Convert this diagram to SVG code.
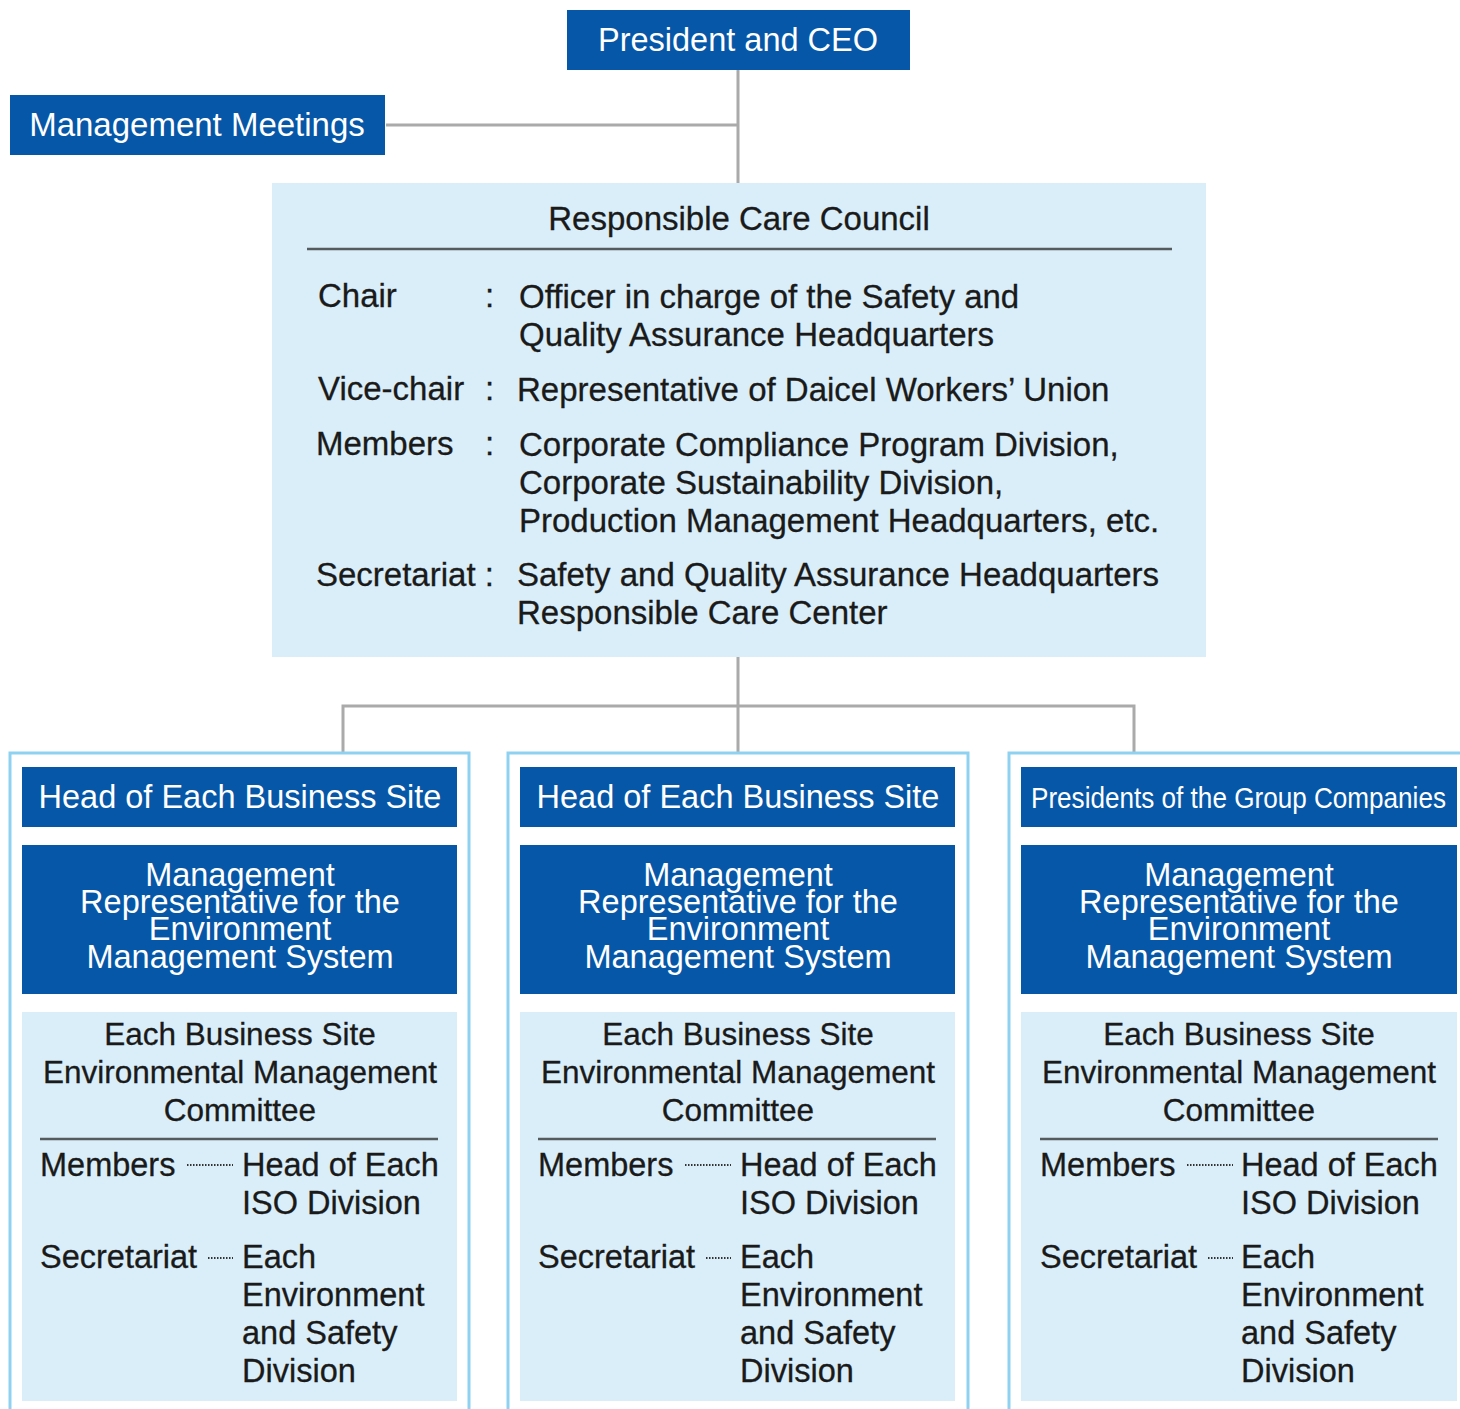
<svg xmlns="http://www.w3.org/2000/svg" width="1460" height="1409" viewBox="0 0 1460 1409">
<style>
.blue{fill:#0657a7}
.light{fill:#d9eef9}
.outer{fill:#ffffff;stroke:#8ed1f1;stroke-width:3}
.conn{fill:none;stroke:#aaaaaa;stroke-width:3}
.rule{stroke:#555a5e;stroke-width:2.5}
.dots{stroke:#333;stroke-width:1.8;stroke-dasharray:1.5 1.5}
text{font-family:"Liberation Sans",Arial,Helvetica,sans-serif}
.w{fill:#ffffff;font-size:32.5px}
.wc{fill:#ffffff;font-size:32.5px;text-anchor:middle}
.k{fill:#1a1a1a;font-size:32.5px;stroke:#1a1a1a;stroke-width:0.3}
.kc{fill:#1a1a1a;font-size:31.5px;text-anchor:middle;stroke:#1a1a1a;stroke-width:0.3}
.c{fill:#1a1a1a;font-size:33px;stroke:#1a1a1a;stroke-width:0.3}
</style>
<rect width="1460" height="1409" fill="#ffffff"/>
<g id="connectors">
<path class="conn" d="M738 70 V183 M386 125 H738"/>
<path class="conn" d="M738 657 V752 M343 752 V706 H1134 V752"/>
</g>
<g id="president">
<rect class="blue" x="567" y="10" width="343" height="60"/>
<text class="wc" x="738" y="51" font-size="32">President and CEO</text>
</g>
<g id="meetings">
<rect class="blue" x="10" y="95" width="375" height="60"/>
<text class="wc" x="197" y="136" style="font-size:33px">Management Meetings</text>
</g>
<g id="council">
<rect class="light" x="272" y="183" width="934" height="474"/>
<text class="c" x="739" y="230" text-anchor="middle">Responsible Care Council</text>
<line class="rule" x1="307" y1="249" x2="1172" y2="249"/>
<text class="c" x="318" y="307">Chair</text>
<text class="c" x="485" y="307">:</text>
<text class="c" x="519" y="308">Officer in charge of the Safety and</text>
<text class="c" x="519" y="346">Quality Assurance Headquarters</text>
<text class="c" x="318" y="400">Vice-chair</text>
<text class="c" x="485" y="400">:</text>
<text class="c" x="517" y="401">Representative of Daicel Workers’ Union</text>
<text class="c" x="316" y="455">Members</text>
<text class="c" x="485" y="455">:</text>
<text class="c" x="519" y="456">Corporate Compliance Program Division,</text>
<text class="c" x="519" y="494">Corporate Sustainability Division,</text>
<text class="c" x="519" y="532">Production Management Headquarters, etc.</text>
<text class="c" x="316" y="586">Secretariat :</text>
<text class="c" x="517" y="586">Safety and Quality Assurance Headquarters</text>
<text class="c" x="517" y="624">Responsible Care Center</text>
</g>
<g id="site1">
<rect class="outer" x="10" y="753" width="459" height="680"/>
<rect class="blue" x="22" y="767" width="435" height="60"/>
<text class="wc" x="240" y="808">Head of Each Business Site</text>
<rect class="blue" x="22" y="845" width="435" height="149"/>
<text class="wc" x="240" y="886">Management</text>
<text class="wc" x="240" y="913">Representative for the</text>
<text class="wc" x="240" y="940">Environment</text>
<text class="wc" x="240" y="968">Management System</text>
<rect class="light" x="22" y="1012" width="435" height="389"/>
<text class="kc" x="240" y="1045">Each Business Site</text>
<text class="kc" x="240" y="1083">Environmental Management</text>
<text class="kc" x="240" y="1121">Committee</text>
<line class="rule" x1="40" y1="1139" x2="438" y2="1139"/>
<text class="k" x="40" y="1176">Members</text>
<line class="dots" x1="187" y1="1165" x2="233" y2="1165"/>
<text class="k" x="242" y="1176">Head of Each</text>
<text class="k" x="242" y="1214">ISO Division</text>
<text class="k" x="40" y="1268">Secretariat</text>
<line class="dots" x1="208" y1="1258" x2="233" y2="1258"/>
<text class="k" x="242" y="1268">Each</text>
<text class="k" x="242" y="1306">Environment</text>
<text class="k" x="242" y="1344">and Safety</text>
<text class="k" x="242" y="1382">Division</text>
</g>
<g id="site2">
<rect class="outer" x="508" y="753" width="460" height="680"/>
<rect class="blue" x="520" y="767" width="435" height="60"/>
<text class="wc" x="738" y="808">Head of Each Business Site</text>
<rect class="blue" x="520" y="845" width="435" height="149"/>
<text class="wc" x="738" y="886">Management</text>
<text class="wc" x="738" y="913">Representative for the</text>
<text class="wc" x="738" y="940">Environment</text>
<text class="wc" x="738" y="968">Management System</text>
<rect class="light" x="520" y="1012" width="435" height="389"/>
<text class="kc" x="738" y="1045">Each Business Site</text>
<text class="kc" x="738" y="1083">Environmental Management</text>
<text class="kc" x="738" y="1121">Committee</text>
<line class="rule" x1="538" y1="1139" x2="936" y2="1139"/>
<text class="k" x="538" y="1176">Members</text>
<line class="dots" x1="685" y1="1165" x2="731" y2="1165"/>
<text class="k" x="740" y="1176">Head of Each</text>
<text class="k" x="740" y="1214">ISO Division</text>
<text class="k" x="538" y="1268">Secretariat</text>
<line class="dots" x1="706" y1="1258" x2="731" y2="1258"/>
<text class="k" x="740" y="1268">Each</text>
<text class="k" x="740" y="1306">Environment</text>
<text class="k" x="740" y="1344">and Safety</text>
<text class="k" x="740" y="1382">Division</text>
</g>
<g id="site3">
<rect class="outer" x="1009" y="753" width="470" height="680"/>
<rect class="blue" x="1021" y="767" width="436" height="60"/>
<text class="w" x="1031" y="808" style="font-size:30px" textLength="415" lengthAdjust="spacingAndGlyphs">Presidents of the Group Companies</text>
<rect class="blue" x="1021" y="845" width="436" height="149"/>
<text class="wc" x="1239" y="886">Management</text>
<text class="wc" x="1239" y="913">Representative for the</text>
<text class="wc" x="1239" y="940">Environment</text>
<text class="wc" x="1239" y="968">Management System</text>
<rect class="light" x="1021" y="1012" width="436" height="389"/>
<text class="kc" x="1239" y="1045">Each Business Site</text>
<text class="kc" x="1239" y="1083">Environmental Management</text>
<text class="kc" x="1239" y="1121">Committee</text>
<line class="rule" x1="1040" y1="1139" x2="1438" y2="1139"/>
<text class="k" x="1040" y="1176">Members</text>
<line class="dots" x1="1187" y1="1165" x2="1233" y2="1165"/>
<text class="k" x="1241" y="1176">Head of Each</text>
<text class="k" x="1241" y="1214">ISO Division</text>
<text class="k" x="1040" y="1268">Secretariat</text>
<line class="dots" x1="1208" y1="1258" x2="1233" y2="1258"/>
<text class="k" x="1241" y="1268">Each</text>
<text class="k" x="1241" y="1306">Environment</text>
<text class="k" x="1241" y="1344">and Safety</text>
<text class="k" x="1241" y="1382">Division</text>
</g>
</svg>
